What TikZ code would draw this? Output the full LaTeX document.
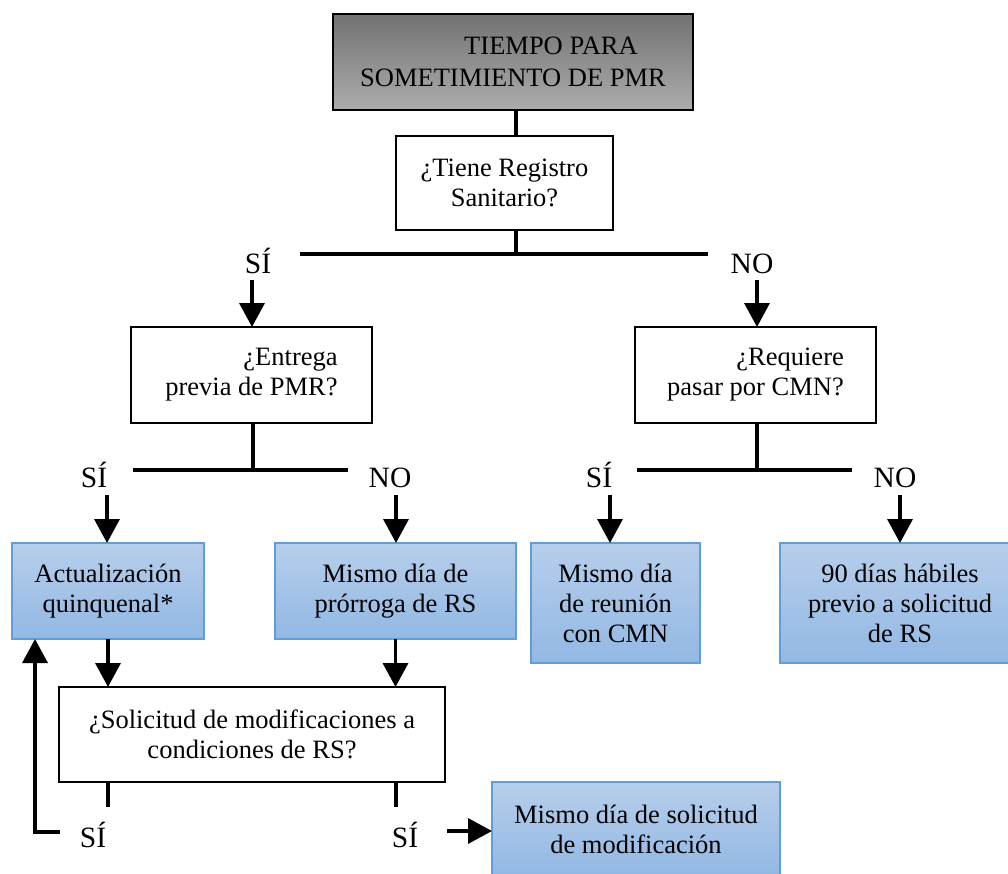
\documentclass[tikz,border=0pt]{standalone}
\usepackage{fontspec}
\setmainfont{Liberation Serif}
\usetikzlibrary{arrows.meta}
\definecolor{graytop}{RGB}{114,114,114}
\definecolor{graybot}{RGB}{172,172,172}
\definecolor{bluetop}{RGB}{183,206,235}
\definecolor{bluebot}{RGB}{146,184,227}
\definecolor{blueline}{RGB}{97,158,215}
\begin{document}
\begin{tikzpicture}[x=1pt,y=-1pt,
  txt/.style={font=\fontsize{26.5}{30}\selectfont},
  qbox/.style={draw=black,line width=2.5pt,fill=white,align=center,inner sep=0pt,outer sep=0pt,txt},
  gbox/.style={draw=black,line width=2pt,top color=graytop,bottom color=graybot,align=center,inner sep=0pt,outer sep=0pt,font=\fontsize{26.5}{32}\selectfont},
  bbox/.style={draw=blueline,line width=1.5pt,top color=bluetop,bottom color=bluebot,align=center,inner sep=0pt,outer sep=0pt,txt},
  lbl/.style={font=\fontsize{29.5}{32}\selectfont,inner sep=0pt,anchor=base},
  ln/.style={line width=3.5pt},
  arr/.style={line width=3.5pt,-{Triangle[length=24pt,width=25pt]}}]
\useasboundingbox (0,0) rectangle (1008,873);
\clip (0,0) rectangle (1008,873);

% boxes
\node[gbox,minimum width=360pt,minimum height=96pt] (top) at (513,62) {\hspace*{76pt}TIEMPO PARA\\SOMETIMIENTO DE PMR};
\node[qbox,minimum width=217pt,minimum height=94pt] (q1) at (504.5,183) {¿Tiene Registro\\Sanitario?};
\node[qbox,align=right,minimum width=241pt,minimum height=96pt] (q2) at (251.5,375) {¿Entrega\\previa de PMR?};
\node[qbox,align=right,minimum width=241pt,minimum height=96pt] (q3) at (755.5,375) {¿Requiere\\pasar por CMN?};
\node[bbox,minimum width=192pt,minimum height=96pt] (b1) at (108,591) {Actualización\\quinquenal*};
\node[bbox,minimum width=241pt,minimum height=96pt] (b2) at (395.5,591) {Mismo día de\\prórroga de RS};
\node[bbox,minimum width=169pt,minimum height=120pt] (b3) at (615.5,603) {Mismo día\\de reunión\\con CMN};
\node[bbox,minimum width=240pt,minimum height=120pt] (b4) at (900,603) {90 días hábiles\\previo a solicitud\\de RS};
\node[qbox,minimum width=386pt,minimum height=95pt] (q4) at (252,734.5) {¿Solicitud de modificaciones a\\condiciones de RS?};
\node[bbox,minimum width=288pt,minimum height=94pt] (b5) at (636,829) {Mismo día de solicitud\\de modificación};

% labels
\node[lbl] (s1) at (258,273) {SÍ};
\node[lbl] (n1) at (752,273) {NO};
\node[lbl] (s2) at (94,487) {SÍ};
\node[lbl] (n2) at (390,487) {NO};
\node[lbl] (s3) at (599,487) {SÍ};
\node[lbl] (n3) at (895,487) {NO};
\node[lbl] (s4) at (93,847) {SÍ};
\node[lbl] (s5) at (405,847) {SÍ};

% coordinates
\coordinate (x1) at (516,0);
\coordinate (j1) at (516,254);
\coordinate (h1L) at (300,254);
\coordinate (h1R) at (708,254);
\coordinate (a1) at (252,280);
\coordinate (a2) at (757,280);
\coordinate (j2) at (253,470);
\coordinate (h2L) at (133,470);
\coordinate (h2R) at (348,470);
\coordinate (j3) at (757,470);
\coordinate (h3L) at (637,470);
\coordinate (h3R) at (852,470);
\coordinate (a3) at (107,495);
\coordinate (a4) at (396,495);
\coordinate (a5) at (610,495);
\coordinate (a6) at (900,495);
\coordinate (t1) at (108,807);
\coordinate (t2) at (396,807);
\coordinate (f1) at (60,832);
\coordinate (f2) at (35,832);
\coordinate (f3) at (447,831);

% connectors
\draw[ln] (top.south -| x1) -- (q1.north -| x1);
\draw[ln] (q1.south -| x1) -- (j1);
\draw[ln] (h1L) -- (h1R);
\draw[arr] (a1) -- (q2.north -| a1);
\draw[arr] (a2) -- (q3.north -| a2);
\draw[ln] (q2.south -| j2) -- (j2);
\draw[ln] (h2L) -- (h2R);
\draw[ln] (q3.south -| j3) -- (j3);
\draw[ln] (h3L) -- (h3R);
\draw[arr] (a3) -- (b1.north -| a3);
\draw[arr] (a4) -- (b2.north -| a4);
\draw[arr] (a5) -- (b3.north -| a5);
\draw[arr] (a6) -- (b4.north -| a6);
\draw[arr] (b1.south) -- (q4.north -| b1.south);
\draw[arr] (b2.south) -- (q4.north -| b2.south);
\draw[ln] (q4.south -| t1) -- (t1);
\draw[ln] (q4.south -| t2) -- (t2);
\draw[arr] (f1) -- (f2) -- (b1.south -| f2);
\draw[arr] (f3) -- (b5.west |- f3);
\end{tikzpicture}
\end{document}
